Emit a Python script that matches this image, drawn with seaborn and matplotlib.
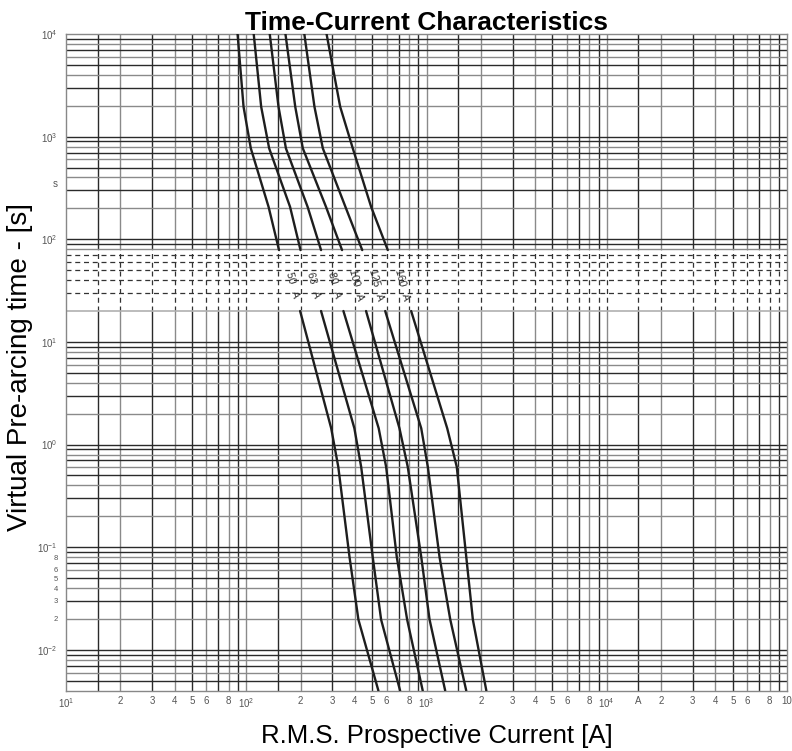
import numpy as np
import pandas as pd
import seaborn as sns
import matplotlib.pyplot as plt

# fuse ratings and the time points
ratings = ["50 A", "63 A", "80 A", "100 A", "125 A", "160 A"]

# upper branch (time in s) and current (A) for each rating
t_upper = [10000, 1955, 769, 207, 78.5]
i_upper = [
    [89.5, 96.6, 106, 133, 152],
    [110, 121, 134, 175, 200],
    [135, 151, 166, 219, 260],
    [165, 187, 206, 277, 340],
    [210, 239, 266, 355, 440],
    [279, 332, 390, 493, 610],
]

# lower branch
t_lower = [20, 1.44, 0.607, 0.0804, 0.0197, 0.004]
i_lower = [
    [199, 296, 324, 374, 419, 541],
    [260, 398, 434, 503, 560, 714],
    [346, 543, 597, 684, 781, 953],
    [462, 708, 787, 935, 1040, 1270],
    [590, 935, 1017, 1181, 1355, 1662],
    [822, 1303, 1472, 1662, 1808, 2148],
]

x_tick_vals = [10, 20, 30, 40, 50, 60, 80, 100, 200, 300, 400, 500, 600, 800,
               1000, 2000, 3000, 4000, 5000, 6000, 8000, 10000, 15000, 20000,
               30000, 40000, 50000, 60000, 80000, 100000]
x_tick_text = ["$10^1$", "2", "3", "4", "5", "6", "8", "$10^2$", "2", "3", "4", "5", "6", "8",
               "$10^3$", "2", "3", "4", "5", "6", "8", "$10^4$", "A", "2",
               "3", "4", "5", "6", "8", "10"]
y_tick_vals = [10000, 1000, 350, 100, 10, 1, 0.1, 0.08, 0.06, 0.05, 0.04, 0.03, 0.02, 0.01]
y_tick_text = ["$10^4$", "$10^3$", "s", "$10^2$", "$10^1$", "$10^0$", "$10^{-1}$",
               "8", "6", "5", "4", "3", "2", "$10^{-2}$"]

sns.set_style("white")
plt.rcParams['font.family'] = ['Liberation Sans', 'DejaVu Sans']
plt.rcParams['mathtext.fontset'] = 'custom'
plt.rcParams['mathtext.rm'] = 'Liberation Sans'
plt.rcParams['mathtext.it'] = 'Liberation Sans'
plt.rcParams['axes.unicode_minus'] = False

rows = []
for k, name in enumerate(ratings):
    for t, i in zip(t_upper, i_upper[k]):
        rows.append({"I": i, "t": t, "seg": name + " up"})
    for t, i in zip(t_lower, i_lower[k]):
        rows.append({"I": i, "t": t, "seg": name + " low"})
df = pd.DataFrame(rows)

fig = plt.figure(figsize=(7.92, 7.51), dpi=100)
ax = fig.add_axes([66 / 792, 1 - 690.7 / 751, 721 / 792, 656.7 / 751])
ax.set_xscale("log")
ax.set_yscale("log")
ax.set_xlim(10, 1e5)
ax.set_ylim(4e-3, 1e4)

dark, grey = "#2a2a2a", "#8a8a8a"

# vertical grid: 1, 1.5, 2..9 per decade, dashed in the 20-80 s band
mults = [1, 1.5, 2, 3, 4, 5, 6, 7, 8, 9]
xs = [m * 10.0 ** d for d in range(1, 5) for m in mults][1:]
for n, x in enumerate(xs):
    c = dark if n % 2 == 0 else grey
    ax.vlines(x, 4e-3, 20, color=c, lw=1.0, zorder=1)
    ax.vlines(x, 80, 1e4, color=c, lw=1.0, zorder=1)
    ax.vlines(x, 20, 80, color="#333333", lw=0.9, linestyles=(0, (4, 3)), zorder=1)

# horizontal grid
for d in range(-3, 4):
    for n, m in enumerate(range(1, 10)):
        y = m * 10.0 ** d
        if y <= 4e-3 or y >= 1e4:
            continue
        c = dark if n % 2 == 0 else grey
        if d == 1 and 3 <= m <= 7:
            ax.axhline(y, color="#333333", lw=0.9, ls=(0, (4, 3)), zorder=1)
        elif d == 1 and m == 2:
            ax.axhline(y, color="#b0b0b0", lw=1.2, zorder=1)
        else:
            ax.axhline(y, color=c, lw=1.0, zorder=1)

sns.lineplot(data=df, x="I", y="t", units="seg", estimator=None, sort=False,
             color="#1e1e1e", lw=1.7, ax=ax, zorder=3)

# rating labels between the two branches
for k, name in enumerate(ratings):
    xm = np.sqrt(i_upper[k][-1] * i_lower[k][0]) * 1.03
    ax.text(xm, 36, name.replace(" ", "   "), rotation=-75, ha="center", va="center",
            fontsize=7.5, color="#333333", zorder=4)

ax.set_xticks(x_tick_vals)
ax.set_xticklabels(x_tick_text)
ax.set_xticks([], minor=True)
ax.set_yticks(y_tick_vals)
ax.set_yticklabels(y_tick_text)
ax.set_yticks([], minor=True)
ax.tick_params(axis="both", length=0, labelsize=7, labelcolor="#555555")
ax.tick_params(axis="x", pad=4)
ax.tick_params(axis="y", pad=6)
for lab in ax.get_yticklabels()[7:13]:
    lab.set_fontsize(5.5)

for s in ax.spines.values():
    s.set_color("#888888")
    s.set_linewidth(1.0)

ax.set_xlabel("")
ax.set_ylabel("")
fig.text(437 / 792, 1 - 736 / 751, "R.M.S. Prospective Current [A]",
         fontsize=18.5, ha="center", va="center", color="black")
fig.text(20 / 792, 1 - 367 / 751, "Virtual Pre-arcing time - [s]",
         fontsize=20, rotation=90, ha="center", va="center", color="black")
ax.set_title("Time-Current Characteristics", fontsize=19, fontweight="bold",
             pad=3, color="black")

fig.savefig("out.png", dpi=100)
